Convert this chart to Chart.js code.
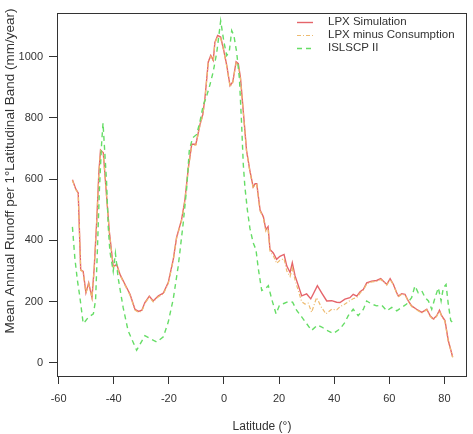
<!DOCTYPE html>
<html>
<head>
<meta charset="utf-8">
<script src="https://cdn.jsdelivr.net/npm/chart.js@4/dist/chart.umd.min.js"></script>
<style>
  html, body { margin: 0; padding: 0; background: #fff; }
  #wrap { width: 473px; height: 434px; }
</style>
</head>
<body>
<div id="wrap"><canvas id="runoff-chart"></canvas></div>
<script>
const xTicks = [-60, -40, -20, 0, 20, 40, 60, 80];
const yTicks = [0, 200, 400, 600, 800, 1000];

// LPX Simulation
const lpxLat = [-55.0, -53.8, -52.9, -52.0, -51.1, -50.1, -49.1, -47.9, -47.1, -46.2, -45.4, -44.8, -43.8, -42.8, -41.6, -40.2, -38.9, -37.7, -35.9, -34.1, -32.3, -31.0, -29.8, -28.7, -27.1, -25.7, -23.8, -22.0, -20.2, -18.4, -17.2, -15.4, -14.2, -12.9, -11.7, -10.2, -8.7, -7.7, -6.9, -5.7, -4.8, -3.9, -3.3, -2.3, -1.2, -0.2, 1.0, 2.2, 3.2, 4.4, 5.2, 6.0, 7.0, 8.2, 9.4, 10.6, 11.3, 11.9, 13.1, 14.3, 15.2, 16.0, 16.7, 17.9, 19.1, 20.3, 21.8, 22.8, 24.0, 24.8, 25.8, 27.0, 28.2, 30.0, 31.5, 32.4, 33.9, 35.5, 37.3, 39.1, 40.9, 42.1, 43.9, 45.7, 46.9, 48.2, 49.4, 50.6, 51.8, 53.6, 55.4, 56.9, 57.8, 59.1, 60.3, 61.5, 62.7, 63.3, 64.5, 65.7, 66.9, 68.1, 69.9, 71.8, 73.6, 74.8, 76.0, 77.2, 78.2, 79.0, 80.2, 81.4, 83.0];
const lpxRunoff = [598, 568, 555, 304, 299, 229, 261, 213, 310, 460, 622, 695, 686, 568, 428, 315, 321, 288, 256, 224, 175, 168, 172, 197, 218, 202, 219, 228, 263, 338, 410, 467, 531, 639, 714, 714, 779, 811, 865, 983, 1004, 988, 1047, 1069, 1064, 1026, 972, 905, 918, 983, 977, 930, 822, 693, 628, 574, 585, 585, 499, 477, 435, 445, 370, 359, 338, 348, 354, 316, 295, 327, 284, 252, 219, 225, 209, 225, 252, 228, 202, 203, 198, 197, 208, 213, 224, 218, 232, 240, 261, 267, 269, 275, 267, 256, 275, 256, 229, 218, 226, 224, 202, 186, 175, 165, 175, 154, 143, 154, 172, 154, 138, 73, 19];

// LPX minus Consumption
const consLat = [-55.0, -53.8, -52.9, -52.0, -51.1, -50.1, -49.1, -47.9, -47.1, -46.2, -45.4, -44.8, -43.8, -42.8, -41.6, -40.2, -38.9, -37.7, -35.9, -34.1, -32.3, -31.0, -29.8, -28.7, -27.1, -25.7, -23.8, -22.0, -20.2, -18.4, -17.2, -15.4, -14.2, -12.9, -11.7, -10.2, -8.7, -7.7, -6.9, -5.7, -4.8, -3.9, -3.3, -2.3, -1.2, -0.2, 1.0, 2.2, 3.2, 4.4, 5.2, 6.0, 7.0, 8.2, 9.4, 10.6, 11.3, 11.9, 13.1, 14.3, 15.2, 16.0, 16.7, 17.9, 19.1, 20.3, 21.8, 22.8, 24.0, 24.8, 25.8, 27.0, 28.2, 29.4, 30.6, 31.8, 33.6, 35.4, 37.0, 39.1, 40.9, 42.1, 43.9, 45.7, 47.0, 48.2, 49.4, 50.6, 51.8, 53.6, 55.4, 56.9, 57.8, 59.1, 60.3, 61.5, 62.7, 63.3, 64.5, 65.7, 66.9, 68.1, 69.9, 71.8, 73.6, 74.8, 76.0, 77.2, 78.2, 79.0, 80.2, 81.4, 83.0];
const consRunoff = [596, 566, 553, 302, 297, 227, 259, 211, 308, 458, 620, 693, 684, 566, 426, 313, 319, 286, 253, 221, 172, 165, 169, 194, 215, 199, 216, 225, 260, 335, 407, 464, 528, 636, 711, 711, 776, 808, 862, 980, 1001, 985, 1044, 1066, 1061, 1023, 969, 902, 915, 980, 974, 927, 819, 690, 625, 571, 582, 582, 496, 473, 430, 440, 365, 350, 325, 335, 340, 300, 282, 310, 270, 235, 200, 192, 195, 165, 213, 181, 160, 175, 173, 183, 192, 203, 210, 213, 228, 238, 258, 264, 266, 272, 265, 254, 273, 254, 227, 216, 224, 222, 200, 184, 173, 163, 173, 152, 141, 152, 170, 152, 136, 71, 18];

// ISLSCP II
const islscpLat = [-55.0, -54.1, -53.2, -52.3, -51.1, -50.4, -49.3, -47.4, -46.6, -46.0, -45.2, -44.4, -43.9, -42.6, -42.0, -41.4, -40.2, -39.4, -38.4, -36.6, -34.8, -31.7, -28.7, -26.9, -24.4, -22.0, -20.2, -18.4, -16.6, -14.8, -13.5, -12.6, -11.4, -9.9, -8.7, -7.5, -6.5, -5.1, -3.9, -2.6, -1.2, 0.0, 1.0, 1.9, 2.8, 3.6, 4.6, 5.6, 6.4, 7.0, 7.6, 8.5, 9.4, 10.6, 11.6, 12.5, 13.7, 14.9, 16.1, 17.3, 18.9, 20.1, 21.5, 23.3, 24.9, 26.4, 28.2, 30.0, 31.8, 33.9, 35.5, 37.3, 39.7, 42.1, 43.9, 45.1, 46.9, 48.7, 50.6, 51.8, 53.6, 55.4, 57.2, 59.1, 60.9, 62.7, 64.5, 66.3, 68.1, 69.3, 70.5, 71.8, 73.0, 74.2, 75.4, 76.6, 77.8, 78.8, 79.6, 80.6, 81.4, 82.3, 83.0];
const islscpRunoff = [444, 340, 270, 215, 129, 135, 148, 160, 205, 353, 568, 718, 783, 589, 444, 364, 299, 358, 277, 181, 105, 41, 89, 80, 68, 85, 134, 209, 316, 456, 574, 693, 735, 746, 789, 843, 865, 908, 951, 1015, 1117, 1047, 1004, 1015, 1085, 1069, 1015, 929, 780, 650, 574, 499, 440, 392, 370, 305, 236, 241, 252, 209, 160, 187, 193, 200, 198, 171, 150, 128, 106, 123, 117, 106, 96, 111, 132, 154, 175, 154, 175, 202, 192, 186, 189, 170, 181, 170, 181, 192, 213, 251, 229, 235, 213, 202, 175, 213, 245, 202, 245, 256, 192, 138, 132];

const FONT = '"Liberation Sans", Arial, Helvetica, sans-serif';
const INK = '#333333';

function toPoints(lats, vals) {
  return lats.map((lat, i) => ({ x: lat, y: vals[i] }));
}

// box round the plot region, like R's box()
const boxPlugin = {
  id: 'box',
  afterDraw(chart) {
    const { ctx, chartArea: a } = chart;
    ctx.save();
    ctx.strokeStyle = INK;
    ctx.lineWidth = 1;
    ctx.strokeRect(Math.round(a.left) + 0.5, Math.round(a.top) + 0.5,
      Math.round(a.right - a.left) - 1, Math.round(a.bottom - a.top));
    ctx.restore();
  },
};

// y title sits a bit above the centre in the original
const yTitlePlugin = {
  id: 'yTitle',
  afterDraw(chart) {
    const { ctx } = chart;
    ctx.save();
    ctx.translate(10, 171);
    ctx.rotate(-Math.PI / 2);
    ctx.font = `13.5px ${FONT}`;
    ctx.fillStyle = INK;
    ctx.textAlign = 'center';
    ctx.textBaseline = 'middle';
    ctx.fillText('Mean Annual Runoff per 1°Latitudinal Band (mm/year)', 0, 0);
    ctx.restore();
  },
};

const legendPlugin = {
  id: 'rLegend',
  afterDraw(chart) {
    const { ctx } = chart;
    const rows = [22, 35, 48];
    ctx.save();
    ctx.font = `11.5px ${FONT}`;
    ctx.textBaseline = 'middle';
    chart.data.datasets.forEach((ds, i) => {
      const y = rows[i] + 0.5;
      ctx.strokeStyle = ds.borderColor;
      ctx.lineWidth = ds.borderWidth;
      ctx.setLineDash(ds.borderDash || []);
      ctx.beginPath();
      ctx.moveTo(297, y);
      ctx.lineTo(313, y);
      ctx.stroke();
      ctx.setLineDash([]);
      ctx.fillStyle = INK;
      ctx.fillText(ds.label, 328, rows[i]);
    });
    ctx.restore();
  },
};

const chart = new Chart(document.getElementById('runoff-chart'), {
  type: 'line',
  data: {
    datasets: [
      {
        label: 'LPX Simulation',
        data: toPoints(lpxLat, lpxRunoff),
        borderColor: '#e5646a',
        borderWidth: 1.4,
        order: 2,
      },
      {
        label: 'LPX minus Consumption',
        data: toPoints(consLat, consRunoff),
        borderColor: '#eebb70',
        borderWidth: 1.2,
        borderDash: [4, 2, 1, 2],
        order: 1,
      },
      {
        label: 'ISLSCP II',
        data: toPoints(islscpLat, islscpRunoff),
        borderColor: '#66dd66',
        borderWidth: 1.4,
        borderDash: [5, 4],
        order: 0,
      },
    ],
  },
  options: {
    responsive: true,
    maintainAspectRatio: false,
    animation: false,
    layout: { padding: { top: 8, right: 6, left: 0, bottom: 0 } },
    elements: {
      point: { radius: 0 },
      line: { tension: 0, fill: false },
    },
    plugins: {
      legend: { display: false },
      tooltip: { enabled: false },
    },
    scales: {
      x: {
        type: 'linear',
        min: -60.6,
        max: 88.2,
        afterBuildTicks: (scale) => { scale.ticks = xTicks.map((v) => ({ value: v })); },
        afterFit: (scale) => { scale.height = 58; },
        border: { display: false },
        grid: { drawOnChartArea: false, drawTicks: true, tickLength: 8, color: INK },
        ticks: {
          color: INK,
          font: { family: FONT, size: 11 },
          padding: 8,
          maxRotation: 0,
          callback: (value) => String(value),
        },
        title: {
          display: true,
          text: 'Latitude (°)',
          color: INK,
          font: { family: FONT, size: 12 },
          padding: { top: 0, bottom: 0 },
        },
      },
      y: {
        type: 'linear',
        min: -43,
        max: 1144,
        afterBuildTicks: (scale) => { scale.ticks = yTicks.map((v) => ({ value: v })); },
        afterFit: (scale) => { scale.width = 57; },
        border: { display: false },
        grid: { drawOnChartArea: false, drawTicks: true, tickLength: 8, color: INK },
        ticks: {
          color: INK,
          font: { family: FONT, size: 11 },
          padding: 6,
          callback: (value) => String(value),
        },
      },
    },
  },
  plugins: [boxPlugin, yTitlePlugin, legendPlugin],
});
</script>
</body>
</html>
